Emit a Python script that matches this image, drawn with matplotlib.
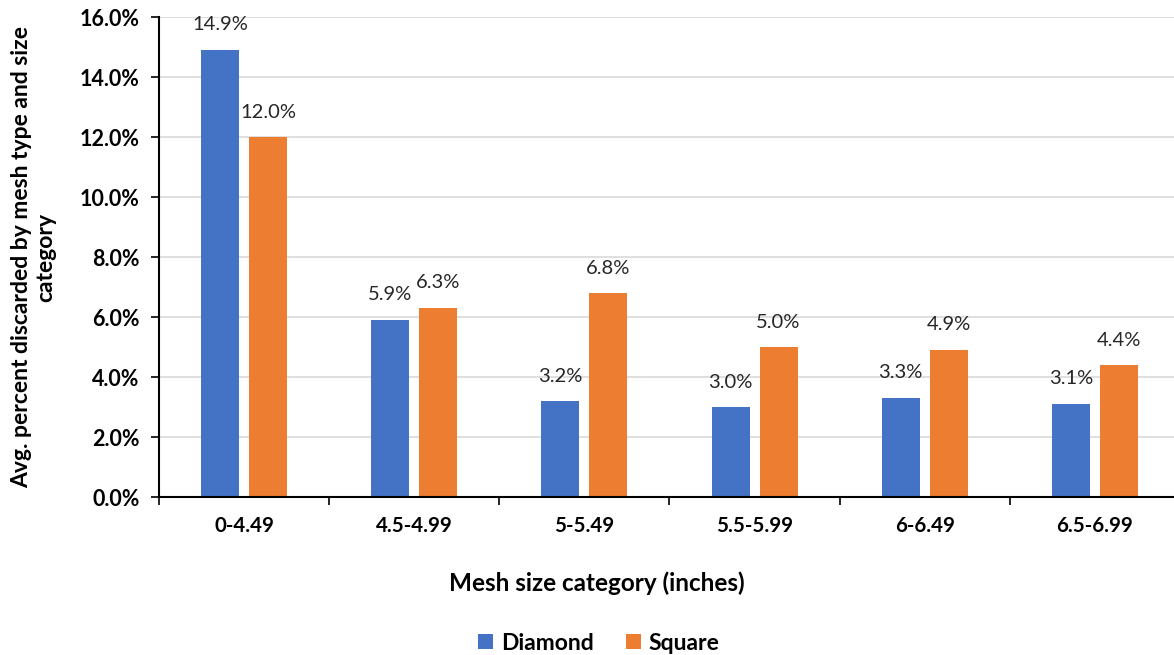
import matplotlib
matplotlib.use("Agg")
import matplotlib.pyplot as plt
import numpy as np
from matplotlib.ticker import FuncFormatter, MultipleLocator

categories = ["0-4.49", "4.5-4.99", "5-5.49", "5.5-5.99", "6-6.49", "6.5-6.99"]
diamond = [14.9, 5.9, 3.2, 3.0, 3.3, 3.1]
square = [12.0, 6.3, 6.8, 5.0, 4.9, 4.4]
series_names = ["Diamond", "Square"]
colors = ["#4472C4", "#ED7D31"]

plt.rcParams['font.family'] = ['Lato', 'DejaVu Sans']

W, H = 1174, 655
fig = plt.figure(figsize=(W / 100, H / 100), dpi=100)
left, right, bottom, top = 159, 1180, 497, 17
ax = fig.add_axes([left / W, 1 - bottom / H, (right - left) / W, (bottom - top) / H])

x = np.arange(len(categories))
bw = 0.224
off = 0.141
for vals, name, c, o in [(diamond, series_names[0], colors[0], -off),
                         (square, series_names[1], colors[1], off)]:
    bars = ax.bar(x + o, vals, width=bw, color=c, label=name, zorder=3)
    for b, v in zip(bars, vals):
        ax.annotate(f"{v:.1f}%", (b.get_x() + b.get_width() / 2, v),
                    xytext=(0, 18), textcoords="offset points",
                    ha="center", va="center", fontsize=14.5, color="#262626")

ax.set_xlim(-0.5, len(categories) - 0.5)
ax.set_ylim(0, 16)
ax.yaxis.set_major_locator(MultipleLocator(2))
ax.yaxis.set_major_formatter(FuncFormatter(lambda v, p: f"{v:.1f}%"))
ax.set_xticks(x)
ax.set_xticklabels(categories, fontsize=14.8, fontweight="bold")
ax.set_xticks(np.arange(len(categories) + 1) - 0.5, minor=True)
ax.tick_params(axis="x", which="major", length=0, pad=14)
ax.tick_params(axis="x", which="minor", length=6, width=1.2, direction="out")
ax.tick_params(axis="y", length=6, width=1.2, direction="out", pad=8)
for lab in ax.get_yticklabels():
    lab.set_fontsize(15.5)
    lab.set_fontweight("bold")
ax.grid(axis="y", color="#d9d9d9", linewidth=1.2, zorder=0)
for s in ["top", "right"]:
    ax.spines[s].set_visible(False)
for s in ["left", "bottom"]:
    ax.spines[s].set_linewidth(1.5)
    ax.spines[s].set_color("black")
    ax.spines[s].set_zorder(4)

fig.text(34 / W, 1 - 257 / H, "Avg. percent discarded by mesh type and size\ncategory",
         rotation=90, ha="center", va="center", fontsize=16.5, fontweight="bold",
         multialignment="center", linespacing=1.2)
fig.text(597 / W, 1 - 583 / H, "Mesh size category (inches)", ha="center", va="center",
         fontsize=17.5, fontweight="bold")
leg = fig.legend(loc="center", bbox_to_anchor=(599 / W, 1 - 643 / H), ncol=2, frameon=False,
                 prop={"size": 16.5, "weight": "bold"}, handlelength=0.65, handleheight=0.65,
                 columnspacing=1.4, handletextpad=0.35)

fig.savefig("out.png", dpi=100)
